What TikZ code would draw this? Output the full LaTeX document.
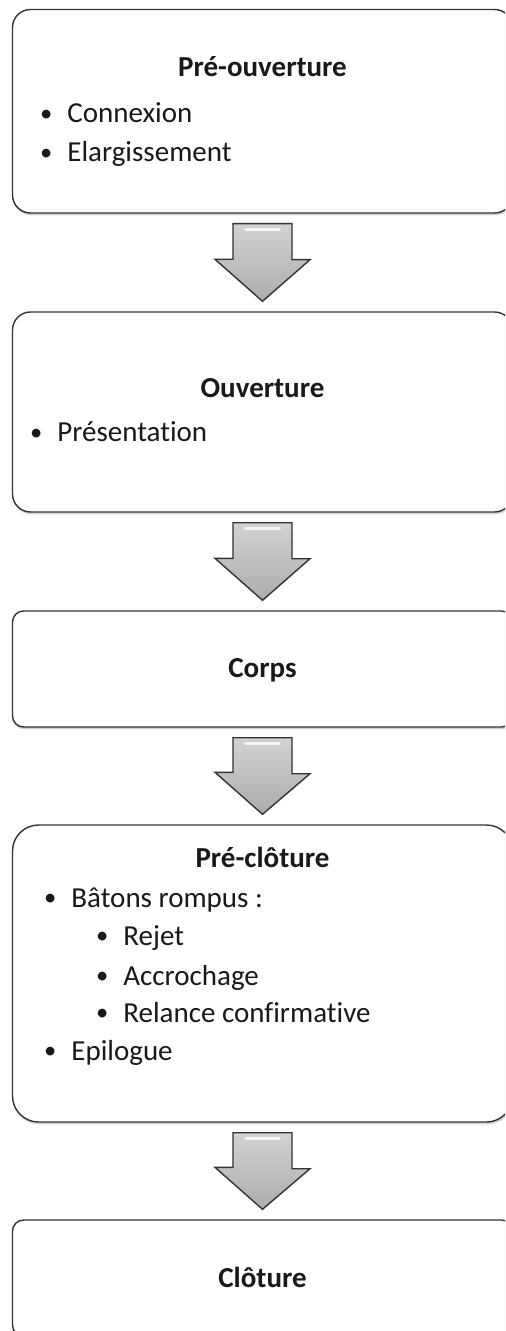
\documentclass[tikz,border=0pt]{standalone}
\usepackage{fontspec}
\setmainfont{Carlito}[Ligatures=NoCommon]
\usetikzlibrary{calc,shadows}

\newcommand{\taille}{\fontsize{14.5pt}{17pt}\selectfont}
\tikzset{
  etape/.style={draw=black!80, line width=0.7pt, fill=white, minimum width=250pt,
    drop shadow={shadow xshift=0.4pt, shadow yshift=-1.2pt, opacity=0.35}},
  titre/.style={font=\taille\bfseries, anchor=base, inner sep=0pt, text=black!90},
  ligne/.style={font=\taille, anchor=base west, inner sep=0pt, text=black!90},
  fleche/.style={draw=black!80, line width=0.7pt, top color=gray!35, bottom color=gray!65}
}
\newcommand{\puce}{\llap{\raisebox{0.6pt}{\scalebox{0.85}{\textbullet}}\hspace{7.5pt}}}
% big grey arrow from one box to the next
\newcommand{\flechebas}[2]{%
  \draw[fleche] ($(#1.south)+(-29.5,10)$) -- ++(59,0) -- ++(0,36) -- ++(18,0)
    -- ($(#2.north)+(0,-10)$) -- ++(-47.5,-42) -- ++(18,0) -- cycle;
  \draw[white, line width=1.4pt, opacity=.8, line cap=round] ($(#1.south)+(-17,16)$) -- ++(34,0);
}

\begin{document}
\begin{tikzpicture}[x=0.5pt,y=-0.5pt]
  \useasboundingbox (0,0) rectangle (505,1331);
  \clip (0,0) rectangle (505,1331);

  \node[etape, rounded corners=9pt, minimum height=101.75pt] (preouv) at (262.5,111.25) {};
  \node[etape, rounded corners=9pt, minimum height=100pt] (ouv) at (262.5,412) {};
  \node[etape, rounded corners=5.5pt, minimum height=58pt] (corps) at (262.5,669) {};
  \node[etape, rounded corners=13pt, minimum height=148.5pt] (preclot) at (262.5,973.5) {};
  \node[etape, rounded corners=5.5pt, minimum height=58pt] (clot) at (262.5,1278) {};

  \flechebas{preouv}{ouv}
  \flechebas{ouv}{corps}
  \flechebas{corps}{preclot}
  \flechebas{preclot}{clot}

  % texts
  \node[titre] (t1) at (262.5,77) {Pré-ouverture};
  \node[ligne] (t1a) at (67,123) {\puce Connexion};
  \node[ligne] (t1b) at (67,162) {\puce Elargissement};

  \node[titre] (t2) at (262.5,398) {Ouverture};
  \node[ligne] (t2a) at (57,442) {\puce Présentation};

  \node[titre] (t3) at (262.5,677) {Corps};

  \node[titre] (t4) at (262.5,867) {Pré-clôture};
  \node[ligne] (t4a) at (71,907) {\puce Bâtons rompus :};
  \node[ligne] (t4b) at (123,945) {\puce Rejet};
  \node[ligne] (t4c) at (123,985) {\puce Accrochage};
  \node[ligne] (t4d) at (123,1022) {\puce Relance confirmative};
  \node[ligne] (t4e) at (71,1060) {\puce Epilogue};

  \node[titre] (t5) at (262.5,1287) {Clôture};
\end{tikzpicture}
\end{document}
